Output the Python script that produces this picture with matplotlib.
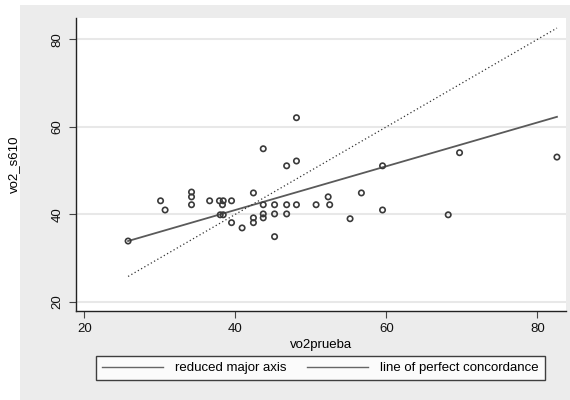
import matplotlib
matplotlib.use("Agg")
import matplotlib.pyplot as plt
from matplotlib.lines import Line2D
from matplotlib.patches import Rectangle

plt.rcParams['font.family'] = ['Liberation Sans', 'DejaVu Sans']

vo2prueba = [25.8, 30.1, 30.7, 34.2, 34.2, 34.2, 36.6, 37.9, 38.4, 38.3,
             39.5, 38.0, 38.4, 39.5, 40.9, 42.4, 42.4, 42.4, 43.7, 43.7,
             43.7, 43.7, 45.2, 45.2, 45.2, 46.8, 46.8, 46.8, 48.1, 48.1,
             48.1, 50.7, 52.3, 52.5, 55.2, 56.7, 59.5, 59.5, 68.2, 69.7,
             82.6]
vo2_s610 = [33.9, 43.1, 41.0, 45.1, 44.0, 42.2, 43.1, 43.1, 43.1, 42.2,
            43.1, 39.9, 39.9, 38.1, 36.9, 44.9, 39.2, 38.1, 55.0, 42.2,
            40.1, 39.2, 42.2, 40.1, 34.9, 51.1, 42.2, 40.1, 62.1, 52.2,
            42.2, 42.2, 44.0, 42.2, 39.0, 44.9, 51.1, 41.0, 39.9, 54.1,
            53.1]

# fitted lines, end points
rma_x = [25.8, 82.6]
rma_y = [33.9, 62.3]
conc_x = [25.8, 82.6]
conc_y = [25.8, 82.6]

xticks = [20, 40, 60, 80]
yticks = [20, 40, 60, 80]

fig = plt.figure(figsize=(5.7, 4.0), dpi=100)
fig.patch.set_facecolor('white')
fig.patches.append(Rectangle((20 / 570, 0), 550 / 570, 395 / 400,
                             transform=fig.transFigure, facecolor='#ececec',
                             edgecolor='none', zorder=-10))

ax = fig.add_axes([76 / 570, 1 - 311 / 400, 490 / 570, 293 / 400])
ax.set_facecolor('white')

for y in yticks:
    ax.axhline(y, color='#e8e8e8', lw=1.5, zorder=0)

ax.scatter(vo2prueba, vo2_s610, s=15, facecolors='none', edgecolors='#3a3a3a',
           linewidths=1.2, zorder=3)
ax.plot(rma_x, rma_y, color='#5a5a5a', lw=1.3, zorder=2)
ax.plot(conc_x, conc_y, color='#333333', lw=0.9, linestyle=(0, (1, 2)), zorder=2)

ax.set_xlim(18.9, 83.8)
ax.set_ylim(17.9, 84.9)
ax.set_xticks(xticks)
ax.set_yticks(yticks)
for side in ['top', 'right']:
    ax.spines[side].set_visible(False)
for side in ['left', 'bottom']:
    ax.spines[side].set_color('#222222')
    ax.spines[side].set_linewidth(1.0)
ax.tick_params(axis='both', direction='out', length=5, width=0.8,
               color='#444444', labelsize=9.5, labelcolor='#111111')
ax.tick_params(axis='y', labelrotation=90, pad=4)
for lab in ax.get_yticklabels():
    lab.set_va('center')

ax.set_xlabel('vo2prueba', fontsize=9.5, labelpad=3)
ax.set_ylabel('vo2_s610', fontsize=9.5, labelpad=23)

handles = [Line2D([], [], color='#666666', lw=1.0),
           Line2D([], [], color='#666666', lw=1.0)]
leg = fig.legend(handles, ['reduced major axis', 'line of perfect concordance'],
                 ncol=2, loc='center', bbox_to_anchor=(320.5 / 570, 1 - 368 / 400),
                 fontsize=9.5, frameon=True, fancybox=False, handlelength=4.6,
                 columnspacing=1.6, handletextpad=0.9, borderpad=0.45)
leg.get_frame().set_edgecolor('#111111')
leg.get_frame().set_linewidth(1.0)

fig.savefig('out.png', dpi=100, facecolor=fig.get_facecolor())
